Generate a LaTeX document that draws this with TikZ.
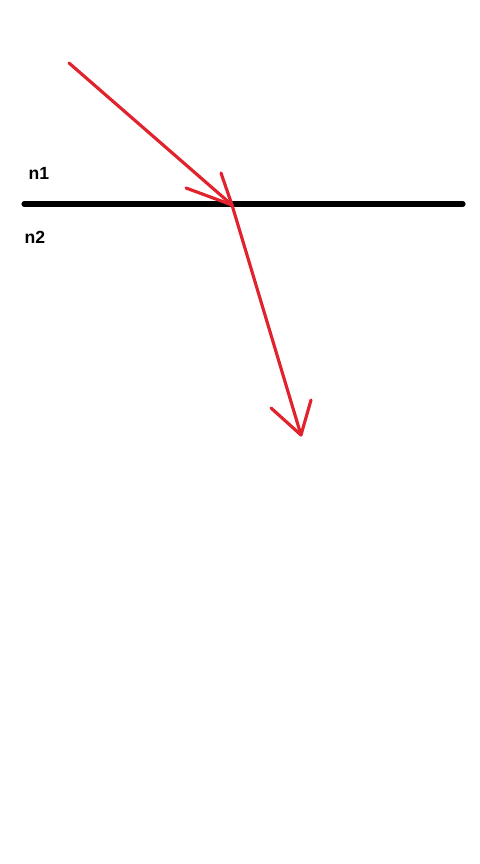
\documentclass[tikz,border=0pt]{standalone}
\usepackage{fontspec}
\setmainfont{Liberation Sans}
\usetikzlibrary{calc}
\tikzset{>=stealth}
\definecolor{raycol}{RGB}{225,35,45}
\tikzset{ray/.style={raycol, line width=0.9pt, line cap=round},
  medium/.style={line width=1.45pt, line cap=round},
  lbl/.style={font=\fontsize{5}{6}\selectfont\bfseries, inner sep=0pt}}

\begin{document}
\begin{tikzpicture}[x=0.01cm, y=-0.01cm]
  \useasboundingbox (0,0) rectangle (480,864);
  \coordinate (left) at (24,204);
  \coordinate (right) at (463,204);
  \coordinate (src) at (69,63);
  \coordinate (hit) at (232,205);
  \coordinate (end) at (301,435);
  \draw [medium] (left)--(right);
  \node [lbl] (n1) at (39,173) {n1};
  \node [lbl] (n2) at (35,237) {n2};
  % incident ray
  \draw [ray] (src)--(hit);
  \draw [ray] (hit)--++(-46,-17);
  \draw [ray] (hit)--++(-11,-32);
  % refracted ray
  \draw [ray] (hit)--(end);
  \draw [ray] (end)--++(-30,-27);
  \draw [ray] (end)--++(10,-35);
\end{tikzpicture}
\end{document}
